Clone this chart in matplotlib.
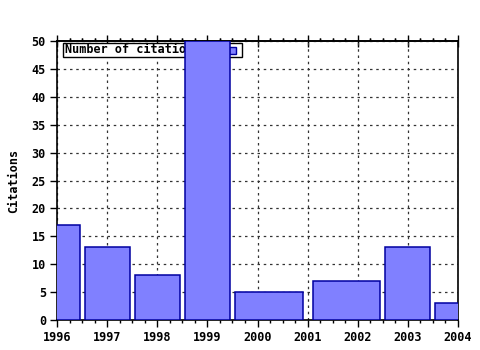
import matplotlib
matplotlib.use("Agg")
import matplotlib.pyplot as plt
from matplotlib.patches import Rectangle
from matplotlib.ticker import MultipleLocator
import numpy as np

# citations per year (no entry for 2001)
years = np.array([1996, 1997, 1998, 1999, 2000, 2002, 2003, 2004])
citations = np.array([17, 13, 8, 50, 5, 7, 13, 3])
legend_label = "Number of citations"
y_label = "Citations"

bar_fill = "#8080ff"
bar_edge = "#0000a0"
font = {"family": "DejaVu Sans Mono", "weight": "bold", "size": 8.5}

# gnuplot-style boxes: each side reaches 90% of the way to the halfway point
gaps = np.diff(years)
left_half = 0.45 * np.concatenate([[gaps[0]], gaps])
right_half = 0.45 * np.concatenate([gaps, [gaps[-1]]])
lefts = years - left_half
widths = left_half + right_half

fig = plt.figure(figsize=(4.8, 3.5), dpi=100)
ax = fig.add_axes([57 / 480, 30 / 350, 401 / 480, 279 / 350])

ax.bar(lefts, citations, width=widths, align="edge", color=bar_fill,
       edgecolor=bar_edge, linewidth=1.1, zorder=3)

ax.set_xlim(1996, 2004)
ax.set_ylim(0, 50)
ax.xaxis.set_major_locator(MultipleLocator(1))
ax.xaxis.set_minor_locator(MultipleLocator(0.25))
ax.yaxis.set_major_locator(MultipleLocator(5))
ax.grid(True, which="major", linestyle=(0, (2, 3)), color="#333333",
        linewidth=0.9, zorder=0)
ax.set_axisbelow(True)

ax.tick_params(axis="x", which="major", direction="out", length=5, width=1,
               pad=3)
ax.tick_params(axis="x", which="minor", direction="out", length=2.5,
               width=1, top=True)
ax.tick_params(axis="y", which="major", direction="out", length=5, width=1,
               right=False, pad=3)
# top axis: major ticks cross the line
ax2 = ax.secondary_xaxis("top")
ax2.xaxis.set_major_locator(MultipleLocator(1))
ax2.tick_params(which="major", direction="inout", length=8, width=1,
                labeltop=False)
ax2.xaxis.set_minor_locator(MultipleLocator(0.25))
ax2.tick_params(which="minor", direction="out", length=2.5, width=1)
ax2.spines["top"].set_linewidth(1.2)

for lab in ax.get_xticklabels() + ax.get_yticklabels():
    lab.set_fontproperties(matplotlib.font_manager.FontProperties(**font))
for sp in ax.spines.values():
    sp.set_linewidth(1.2)

ax.set_ylabel(y_label, fontdict=font, labelpad=8)

# legend box sits underneath the bars, like in the original
ax.add_patch(Rectangle((0.015, 0.943), 0.446, 0.05, transform=ax.transAxes,
                       facecolor="white", edgecolor="black", linewidth=1,
                       zorder=1))
ax.text(0.02, 0.968, legend_label, transform=ax.transAxes, va="center",
        ha="left", zorder=1, **font)
ax.add_patch(Rectangle((0.429, 0.953), 0.0175, 0.025, transform=ax.transAxes,
                       facecolor=bar_fill, edgecolor=bar_edge, linewidth=1,
                       zorder=1))

fig.savefig("out.png", dpi=100)
